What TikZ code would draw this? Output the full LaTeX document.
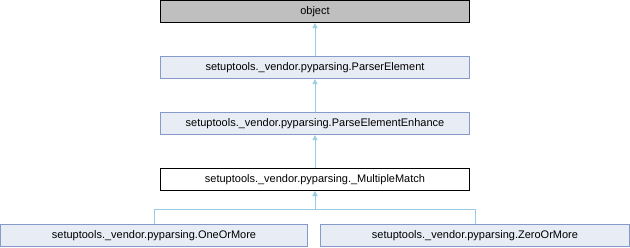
\documentclass[tikz,border=0pt]{standalone}
\usepackage{fontspec}
\setmainfont{Liberation Sans}
\usetikzlibrary{arrows.meta, positioning}

\definecolor{boxfill}{RGB}{232,236,244}
\definecolor{boxline}{RGB}{132,155,201}
\definecolor{rootfill}{RGB}{191,191,191}
\definecolor{edgeblue}{RGB}{153,202,230}

\tikzset{
    classbox/.style={draw=boxline, fill=boxfill, line width=0.8pt, minimum height=22.5pt, inner sep=0pt, font=\fontsize{11}{13}\selectfont},
    rootbox/.style={classbox, draw=black, fill=rootfill},
    currentbox/.style={classbox, draw=black, fill=white},
    inherit/.style={draw=edgeblue, line width=0.8pt, -{Triangle[length=5pt, width=5pt]}}
}

\begin{document}
\begin{tikzpicture}[x=1pt, y=-1pt]
    \useasboundingbox (0,0) rectangle (630,248);

    \node[rootbox, minimum width=309pt] (object) at (315,11.5) {object};
    \node[classbox, minimum width=309pt] (parserelement) at (315,67.5) {setuptools.\_vendor.pyparsing.ParserElement};
    \node[classbox, minimum width=309pt] (enhance) at (315,123.5) {setuptools.\_vendor.pyparsing.ParseElementEnhance};
    \node[currentbox, minimum width=309pt] (multiplematch) at (315,179.5) {setuptools.\_vendor.pyparsing.\_MultipleMatch};
    \node[classbox, minimum width=307pt] (oneormore) at (154,235.5) {setuptools.\_vendor.pyparsing.OneOrMore};
    \node[classbox, minimum width=309pt] (zeroormore) at (475,235.5) {setuptools.\_vendor.pyparsing.ZeroOrMore};

    \coordinate (split) at (315,209);

    \draw[inherit] (parserelement.north) -- (object.south);
    \draw[inherit] (enhance.north) -- (parserelement.south);
    \draw[inherit] (multiplematch.north) -- (enhance.south);
    \draw[inherit] (oneormore.north) |- (split) -- (multiplematch.south);
    \draw[inherit] (zeroormore.north) |- (split) -- (multiplematch.south);
\end{tikzpicture}
\end{document}
